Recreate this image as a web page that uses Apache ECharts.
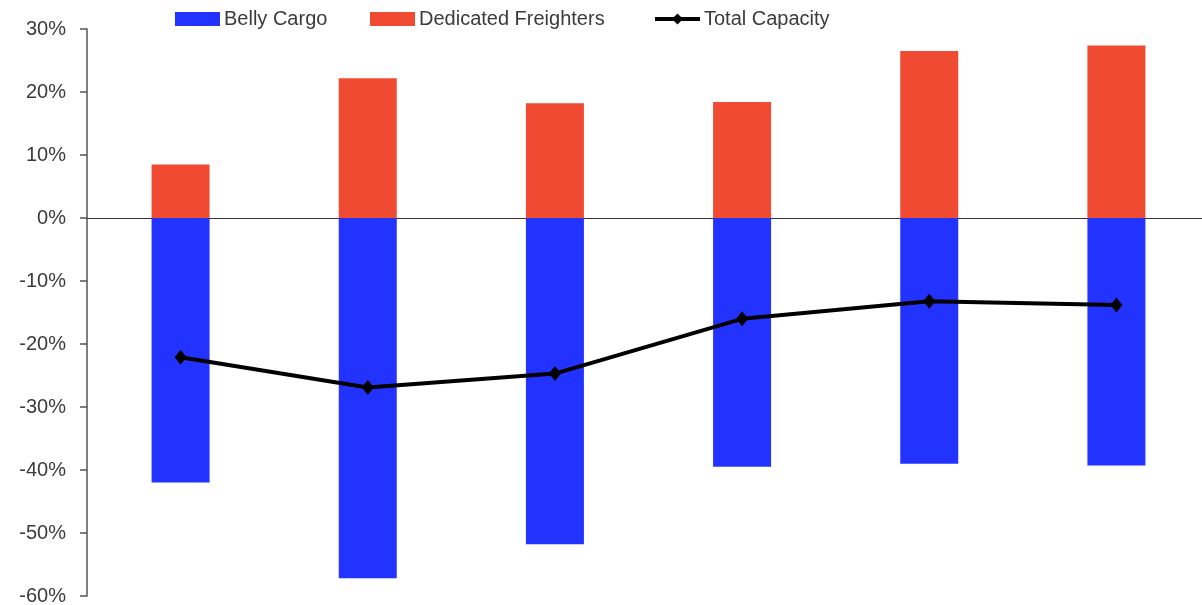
<!DOCTYPE html>
<html>
<head>
<meta charset="utf-8">
<style>
  html, body { margin: 0; padding: 0; background: #fff; }
  #chart { width: 1202px; height: 605px; }
</style>
<script src="https://cdn.jsdelivr.net/npm/echarts@6/dist/echarts.min.js"></script>
</head>
<body>
<div id="chart"></div>
<script>
// Capacity change by period (%), six periods
const categories = ['P1', 'P2', 'P3', 'P4', 'P5', 'P6'];
const bellyCargo = [-42.0, -57.2, -51.8, -39.5, -39.0, -39.3];
const dedicatedFreighters = [8.5, 22.2, 18.2, 18.4, 26.5, 27.4];
const totalCapacity = [-22.1, -26.9, -24.7, -16.0, -13.2, -13.8];
const yTicks = { min: -60, max: 30, interval: 10 };

const FONT = 'Liberation Sans';
const TEXT = '#3b3b3b';

const chart = echarts.init(document.getElementById('chart'), null, { renderer: 'canvas' });

function legendAt(name, left) {
  const isLine = name === 'Total Capacity';
  const legend = {
    data: [name],
    left: left,
    top: 9,
    itemWidth: 45,
    itemHeight: 14,
    itemGap: 4,
    padding: 0,
    selectedMode: false,
    textStyle: { fontFamily: FONT, fontSize: 20, color: TEXT, padding: [0, 0, 0, -1] }
  };
  if (isLine) {
    legend.lineStyle = { width: 4 };
  } else {
    legend.icon = 'rect';
  }
  return legend;
}

chart.setOption({
  animation: false,
  backgroundColor: '#ffffff',
  legend: [
    legendAt('Belly Cargo', 175),
    legendAt('Dedicated Freighters', 370),
    legendAt('Total Capacity', 653)
  ],
  // plot area runs slightly past the right edge of the canvas
  grid: { left: 87, width: 1123, top: 29, bottom: 9, containLabel: false, outerBoundsMode: 'none' },
  xAxis: {
    type: 'category',
    data: categories,
    axisLine: { onZero: true, lineStyle: { color: '#333', width: 1.2 } },
    axisTick: { show: false },
    axisLabel: { show: false },
    splitLine: { show: false }
  },
  yAxis: {
    type: 'value',
    min: yTicks.min,
    max: yTicks.max,
    interval: yTicks.interval,
    axisLine: { show: true, lineStyle: { color: '#555', width: 1.5 } },
    axisTick: { show: true, length: 7, lineStyle: { color: '#555', width: 1.5 } },
    axisLabel: {
      margin: 21,
      fontFamily: FONT,
      fontSize: 20,
      color: TEXT,
      formatter: v => v + '%'
    },
    splitLine: { show: false }
  },
  series: [
    {
      name: 'Belly Cargo',
      type: 'bar',
      data: bellyCargo,
      barWidth: 58,
      barGap: '-100%',
      itemStyle: { color: '#2333FF' }
    },
    {
      name: 'Dedicated Freighters',
      type: 'bar',
      data: dedicatedFreighters,
      barWidth: 58,
      barGap: '-100%',
      itemStyle: { color: '#F04A33' }
    },
    {
      name: 'Total Capacity',
      type: 'line',
      data: totalCapacity,
      symbol: 'diamond',
      symbolSize: [12, 15],
      z: 5,
      lineStyle: { color: '#000', width: 4 },
      itemStyle: { color: '#000' }
    }
  ]
});
</script>
</body>
</html>
